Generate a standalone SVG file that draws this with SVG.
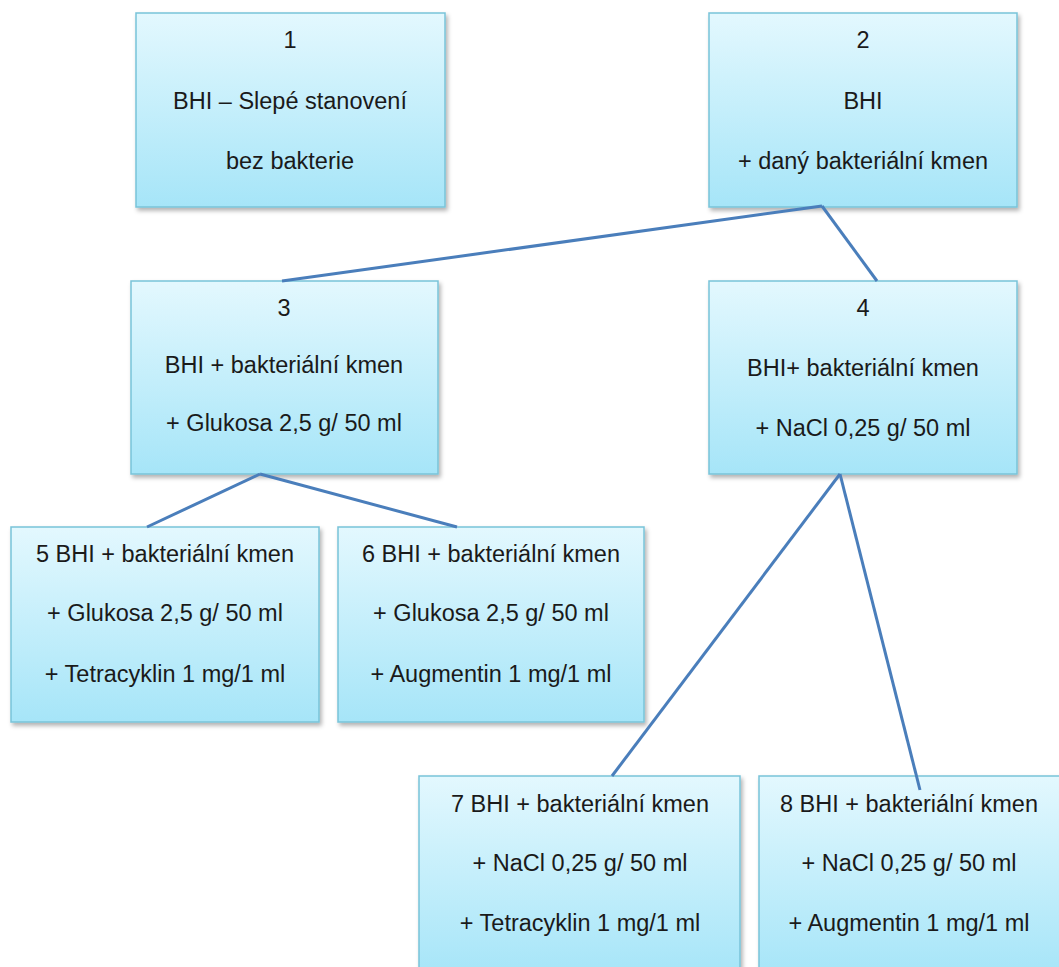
<svg xmlns="http://www.w3.org/2000/svg" width="1059" height="967" viewBox="0 0 1059 967">
<style>
.box{fill:url(#g);stroke:#78c3d9;stroke-width:1.5;filter:url(#sh)}
.t{font-family:"Liberation Sans",Arial,sans-serif;font-size:23.5px;fill:#1a1a1a;text-anchor:middle}
.c{stroke:#4a7ebb;stroke-width:3;fill:none}
</style>
<defs>
<linearGradient id="g" x1="0" y1="0" x2="0" y2="1">
<stop offset="0" stop-color="#e3f8fe"/>
<stop offset="1" stop-color="#a6e5f8"/>
</linearGradient>
<filter id="sh" x="-5%" y="-5%" width="112%" height="112%">
<feDropShadow dx="2" dy="3" stdDeviation="2" flood-color="#000" flood-opacity="0.3"/>
</filter>
</defs>
<rect width="1059" height="967" fill="#fff"/>
<g id="node1"><rect class="box" x="136" y="13" width="309" height="194"/>
<text class="t" x="290" y="48">1</text><text class="t" x="290" y="109">BHI – Slepé stanovení</text><text class="t" x="290" y="169">bez bakterie</text></g>
<g id="node2"><rect class="box" x="709" y="13" width="308" height="194"/>
<text class="t" x="863" y="48">2</text><text class="t" x="863" y="109">BHI</text><text class="t" x="863" y="169">+ daný bakteriální kmen</text></g>
<g id="node3"><rect class="box" x="131" y="281" width="307" height="193"/>
<text class="t" x="284" y="316">3</text><text class="t" x="284" y="373">BHI + bakteriální kmen</text><text class="t" x="284" y="431">+ Glukosa 2,5 g/ 50 ml</text></g>
<g id="node4"><rect class="box" x="709" y="281" width="308" height="193"/>
<text class="t" x="863" y="316">4</text><text class="t" x="863" y="376">BHI+ bakteriální kmen</text><text class="t" x="863" y="436">+ NaCl 0,25 g/ 50 ml</text></g>
<g id="node5"><rect class="box" x="11" y="527" width="308" height="195"/>
<text class="t" x="165" y="562">5 BHI + bakteriální kmen</text><text class="t" x="165" y="621">+ Glukosa 2,5 g/ 50 ml</text><text class="t" x="165" y="682">+ Tetracyklin 1 mg/1 ml</text></g>
<g id="node6"><rect class="box" x="338" y="527" width="306" height="195"/>
<text class="t" x="491" y="562">6 BHI + bakteriální kmen</text><text class="t" x="491" y="621">+ Glukosa 2,5 g/ 50 ml</text><text class="t" x="491" y="682">+ Augmentin 1 mg/1 ml</text></g>
<g id="node7"><rect class="box" x="419" y="776" width="321" height="200"/>
<text class="t" x="580" y="812">7 BHI + bakteriální kmen</text><text class="t" x="580" y="871">+ NaCl 0,25 g/ 50 ml</text><text class="t" x="580" y="931">+ Tetracyklin 1 mg/1 ml</text></g>
<g id="node8"><rect class="box" x="759" y="776" width="310" height="200"/>
<text class="t" x="909" y="812">8 BHI + bakteriální kmen</text><text class="t" x="909" y="871">+ NaCl 0,25 g/ 50 ml</text><text class="t" x="909" y="931">+ Augmentin 1 mg/1 ml</text></g>
<g id="connectors">
<line class="c" x1="822" y1="206" x2="282" y2="281"/>
<line class="c" x1="822" y1="206" x2="877" y2="281"/>
<line class="c" x1="260" y1="474" x2="147" y2="527"/>
<line class="c" x1="260" y1="474" x2="457" y2="527"/>
<line class="c" x1="840" y1="474" x2="612" y2="776"/>
<line class="c" x1="840" y1="474" x2="920" y2="790"/>
</g>
</svg>
